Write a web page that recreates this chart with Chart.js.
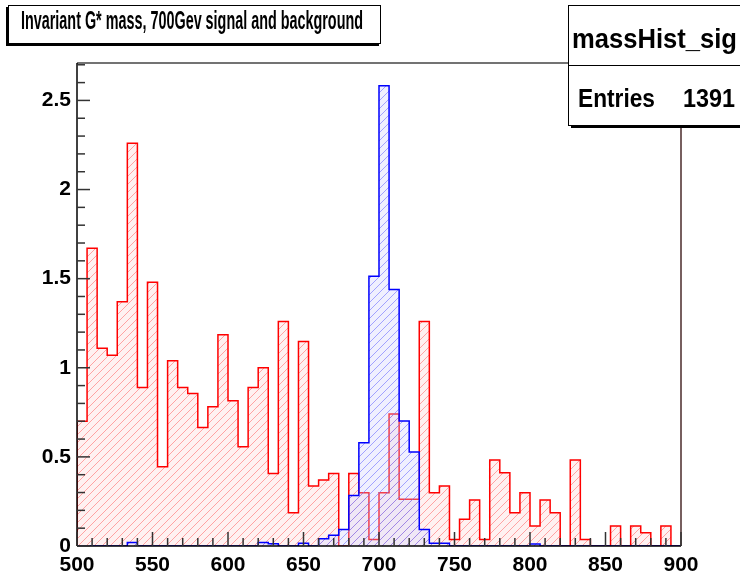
<!DOCTYPE html>
<html>
<head>
<meta charset="utf-8">
<script src="https://cdn.jsdelivr.net/npm/chart.js@4.4.1/dist/chart.umd.min.js"></script>
<style>
  body { margin: 0; background: #fff; }
  #wrap { position: relative; width: 740px; height: 578px; overflow: hidden; }
  #c { position: absolute; left: 0; top: 0; }
  .box { position: absolute; background: #fff; border: 1px solid #000; box-sizing: border-box; }
  .txt { position: absolute; white-space: nowrap; font-family: "Liberation Sans", Arial, sans-serif; font-weight: bold; line-height: 1; color: #000; transform-origin: left top; }
</style>
</head>
<body>
<div id="wrap">
  <canvas id="c" width="740" height="578"></canvas>
  <div class="box" id="titleBox" style="left:8px;top:5px;width:373px;height:39px;box-shadow:-2px 2px 0 #000;"></div>
  <div class="txt" id="titleTxt" data-w="342" style="left:21px;top:8px;font-size:25px;">Invariant G* mass, 700Gev signal and background</div>
  <div class="box" id="statsBox" style="left:568px;top:5px;width:190px;height:121px;box-shadow:3px 2px 0 #000;"></div>
  <div style="position:absolute;left:568px;top:65px;width:180px;height:1px;background:#000;"></div>
  <div class="txt" id="statsName" data-w="165" style="left:572px;top:25px;font-size:28px;">massHist_sig</div>
  <div class="txt" id="statsEntries" data-w="77" style="left:578px;top:86px;font-size:25px;">Entries</div>
  <div class="txt" id="statsCount" data-w="52" style="left:683px;top:86px;font-size:25px;">1391</div>
</div>
<script>
// histogram binning
const X_MIN = 500;
const X_MAX = 900;
const Y_MAX = 2.71;

// background (red) bin contents, 60 bins of 500..900
const bkgValues = [
  0.70, 1.67, 1.11, 1.07, 1.37, 2.26, 0.89, 1.48, 0.445, 1.04,
  0.89, 0.856, 0.665, 0.781, 1.185, 0.815, 0.557, 0.889, 1.00, 0.407,
  1.26, 0.187, 1.147, 0.336, 0.37, 0.407, 0, 0.407, 0.299, 0.037,
  0.299, 0.74, 0.262, 0.262, 1.26, 0.299, 0.336, 0.037, 0.15, 0.258,
  0.037, 0.482, 0.411, 0.187, 0.299, 0.112, 0.258, 0.187, 0, 0.482,
  0.037, 0, 0, 0.112, 0, 0.112, 0.075, 0, 0.112, 0
];

// signal (blue) bin contents
const sigValues = [
  0, 0, 0, 0, 0, 0.019, 0, 0, 0, 0,
  0, 0, 0, 0, 0, 0, 0, 0, 0.02, 0.013,
  0, 0, 0.015, 0, 0.041, 0.06, 0.093, 0.284, 0.579, 1.513,
  2.582, 1.439, 0.702, 0.527, 0.093, 0.015, 0.015, 0, 0, 0,
  0, 0, 0, 0, 0, 0.011, 0, 0, 0, 0,
  0, 0, 0, 0, 0, 0, 0, 0, 0, 0
];

const xTickValues = [500, 550, 600, 650, 700, 750, 800, 850, 900];
const yTickValues = [0, 0.5, 1, 1.5, 2, 2.5];

// step outline points: one per bin lower edge, closed down to zero at both ends
function histPoints(values) {
  const w = (X_MAX - X_MIN) / values.length;
  const pts = [{ x: X_MIN, y: 0 }];
  values.forEach((v, i) => pts.push({ x: X_MIN + i * w, y: v }));
  pts.push({ x: X_MAX, y: values[values.length - 1] });
  pts.push({ x: X_MAX, y: 0 });
  return pts;
}

const canvas = document.getElementById('c');
const ctx = canvas.getContext('2d');

// ROOT-like "/" hatch on a faintly tinted tile
function hatch(line, tint) {
  const n = 8;
  const c = document.createElement('canvas');
  c.width = n; c.height = n;
  const g = c.getContext('2d');
  g.fillStyle = tint;
  g.fillRect(0, 0, n, n);
  g.fillStyle = line;
  for (let i = 0; i < n; i++) g.fillRect(i, n - 1 - i, 1, 1);
  return ctx.createPattern(c, 'repeat');
}

const tickFont = { family: "'Liberation Sans', Arial, sans-serif", size: 21, weight: 'bold' };

// frame + inward ticks like ROOT
const framePlugin = {
  id: 'frame',
  beforeDatasetsDraw(chart) {
    const a = chart.chartArea;
    const g = chart.ctx;
    g.save();
    g.lineWidth = 1.5;
    g.strokeStyle = '#444';
    g.beginPath(); g.moveTo(a.left, a.top); g.lineTo(a.right, a.top); g.stroke();
    g.strokeStyle = '#4a2a2a';
    g.beginPath(); g.moveTo(a.right, a.top); g.lineTo(a.right, a.bottom); g.stroke();
    g.restore();
  },
  afterDatasetsDraw(chart) {
    const a = chart.chartArea;
    const g = chart.ctx;
    const xs = chart.scales.x, ys = chart.scales.y;
    g.save();
    g.strokeStyle = '#000';
    g.lineWidth = 1.5;
    g.beginPath(); g.moveTo(a.left, a.top); g.lineTo(a.left, a.bottom); g.stroke();
    g.beginPath(); g.moveTo(a.left, a.bottom); g.lineTo(a.right, a.bottom); g.stroke();
    g.strokeStyle = '#333';
    g.lineWidth = 1.5;
    for (let i = 0; i * 0.1 <= Y_MAX; i++) {
      const y = ys.getPixelForValue(i * 0.1);
      const len = i % 5 === 0 ? 13 : 8;
      g.beginPath(); g.moveTo(a.left, y); g.lineTo(a.left + len, y); g.stroke();
    }
    for (let v = X_MIN; v <= X_MAX; v += 10) {
      const x = xs.getPixelForValue(v);
      const len = v % 50 === 0 ? 14 : 8;
      g.beginPath(); g.moveTo(x, a.bottom); g.lineTo(x, a.bottom - len); g.stroke();
    }
    g.restore();
  }
};

const sigHatch = hatch('rgba(110,110,255,0.6)', 'rgba(205,205,255,0.3)');
const bkgHatch = hatch('rgba(255,110,110,0.6)', 'rgba(255,210,210,0.3)');

new Chart(canvas, {
  type: 'line',
  data: {
    datasets: [
      {
        label: 'signal',
        data: histPoints(sigValues),
        stepped: true,
        borderColor: '#0000ff',
        borderWidth: 1.5,
        backgroundColor: sigHatch,
        fill: { target: 'origin', above: sigHatch, below: sigHatch },
        pointRadius: 0
      },
      {
        label: 'background',
        data: histPoints(bkgValues),
        stepped: true,
        borderColor: '#ff0000',
        borderWidth: 1.5,
        backgroundColor: bkgHatch,
        fill: { target: 'origin', above: bkgHatch, below: bkgHatch },
        pointRadius: 0
      }
    ]
  },
  options: {
    responsive: false,
    devicePixelRatio: 1,
    animation: false,
    layout: { padding: { top: 63, right: 59, left: 0, bottom: 0 } },
    plugins: { legend: { display: false }, tooltip: { enabled: false } },
    scales: {
      x: {
        type: 'linear',
        min: X_MIN,
        max: X_MAX,
        grid: { display: false, drawTicks: false },
        border: { display: false },
        ticks: { font: tickFont, color: '#000', padding: 7, maxRotation: 0, autoSkip: false },
        afterBuildTicks: s => { s.ticks = xTickValues.map(v => ({ value: v })); },
        afterFit: s => { s.height = 32; }
      },
      y: {
        min: 0,
        max: Y_MAX,
        grid: { display: false, drawTicks: false },
        border: { display: false },
        ticks: { font: tickFont, color: '#000', padding: 6, callback: v => String(v) },
        afterBuildTicks: s => { s.ticks = yTickValues.map(v => ({ value: v })); },
        afterFit: s => { s.width = 77; }
      }
    }
  },
  plugins: [framePlugin]
});

// squeeze the box texts to the widths seen in the reference
document.querySelectorAll('.txt[data-w]').forEach(el => {
  const w = el.getBoundingClientRect().width;
  el.style.transform = 'scaleX(' + (Number(el.dataset.w) / w) + ')';
});
</script>
</body>
</html>
